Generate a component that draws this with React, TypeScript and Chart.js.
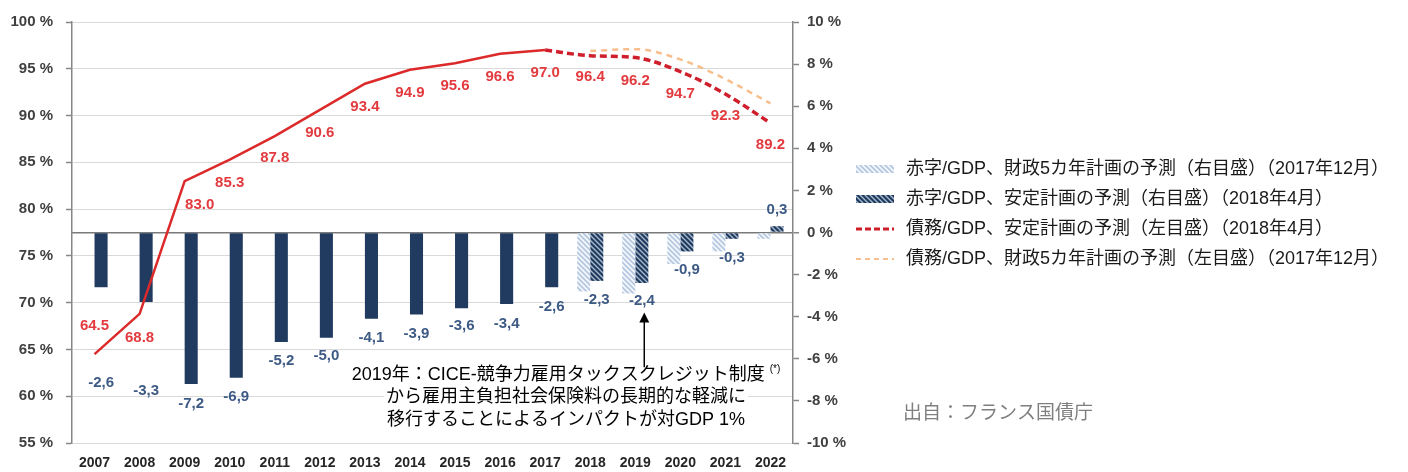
import React, { useEffect, useRef } from "react";
import { Chart, registerables } from "chart.js";

Chart.register(...registerables);

// ---------- data ----------
const years = ["2007", "2008", "2009", "2010", "2011", "2012", "2013", "2014", "2015", "2016", "2017", "2018", "2019", "2020", "2021", "2022"];
// 債務/GDP (actual 2007-2017, 安定計画 2018-2022)
const debtRatio = [64.5, 68.8, 83.0, 85.3, 87.8, 90.6, 93.4, 94.9, 95.6, 96.6, 97.0, 96.4, 96.2, 94.7, 92.3, 89.2];
// 債務/GDP 財政5カ年計画 (2017年12月)
const debtRatioPlan5y = [null, null, null, null, null, null, null, null, null, null, null, 96.9, 97.1, 96.0, 93.9, 91.3];
// 赤字/GDP (actual 2007-2017, 安定計画 2018-2022)
const deficitStability = [-2.6, -3.3, -7.2, -6.9, -5.2, -5.0, -4.1, -3.9, -3.6, -3.4, -2.6, -2.3, -2.4, -0.9, -0.3, 0.3];
// 赤字/GDP 財政5カ年計画 (2017年12月)
const deficitPlan5y = [null, null, null, null, null, null, null, null, null, null, null, -2.8, -2.9, -1.5, -0.9, -0.3];
const lastActualIndex = 10;

const leftAxis = { min: 55, max: 100, step: 5 };
const rightAxis = { min: -10, max: 10, step: 2 };

const legendLabels = [
  "赤字/GDP、財政5カ年計画の予測（右目盛）（2017年12月）",
  "赤字/GDP、安定計画の予測（右目盛）（2018年4月）",
  "債務/GDP、安定計画の予測（左目盛）（2018年4月）",
  "債務/GDP、財政5カ年計画の予測（左目盛）（2017年12月）",
];
const annotationLines = [
  "2019年：CICE-競争力雇用タックスクレジット制度",
  "から雇用主負担社会保険料の長期的な軽減に",
  "移行することによるインパクトが対GDP 1%",
];
const annotationNote = "(*)";
const annotationYear = "2019";
const arrowRange = [-3.8, -6.4]; // right-axis values: tip, tail
const sourceNote = "出自：フランス国債庁";

// ---------- style ----------
const C = {
  navy: "#203a60",
  red: "#dc2a2a",
  redDash: "#cf1f2c",
  orange: "#f8be8c",
  debtLabel: "#e23a3e",
  deficitLabel: "#3d5a85",
  axis: "#868686",
  grid: "#d9d9d9",
  tick: "#404040",
};
const latin = '"Liberation Sans", Arial, "Noto Sans CJK JP", sans-serif';
// label offsets (px) relative to the point / bar end
const debtLabelDx = [0, 0, 15, 0, 0, 0, 0, 0, 0, 0, 0, 0, 0, 0, 0, 0];
const debtLabelDy = [-28, 24, 24, 23, 22, 23, 23, 23, 23, 23, 23, 21, 23, 22, 22, 22];
const deficitLabelDy = [96, 89, 20, 19, 19, 18, 19, 19, 18, 20, 20, 19, 18, 18, 19, -16];

function makeHatch(ctx: CanvasRenderingContext2D, bg: string, fg: string, size: number, lw: number) {
  const c = document.createElement("canvas");
  c.width = size;
  c.height = size;
  const g = c.getContext("2d")!;
  g.fillStyle = bg;
  g.fillRect(0, 0, size, size);
  g.strokeStyle = fg;
  g.lineWidth = lw;
  g.beginPath();
  g.moveTo(-1, -1);
  g.lineTo(size + 1, size + 1);
  g.moveTo(-1, size - 1);
  g.lineTo(1, size + 1);
  g.moveTo(size - 1, -1);
  g.lineTo(size + 1, 1);
  g.stroke();
  return ctx.createPattern(c, "repeat")!;
}

export default function App() {
  const ref = useRef<HTMLCanvasElement | null>(null);

  useEffect(() => {
    const canvas = ref.current!;
    const ctx0 = canvas.getContext("2d")!;
    const lightHatch = makeHatch(ctx0, "#f3f6fb", "#b3c6e0", 5, 1.6);
    const darkHatch = makeHatch(ctx0, "#1f3a5f", "#aab8cc", 5, 1.4);

    const darkColors = deficitStability.map((_, i) => (i <= lastActualIndex ? C.navy : darkHatch));

    const overlay = {
      id: "overlay",
      afterDatasetsDraw(chart: any) {
        const ctx: CanvasRenderingContext2D = chart.ctx;
        const xs = chart.scales.x;
        const yL = chart.scales.yL;
        const yR = chart.scales.yR;
        ctx.save();
        // debt labels
        ctx.font = `bold 15px ${latin}`;
        ctx.textAlign = "center";
        ctx.textBaseline = "middle";
        ctx.fillStyle = C.debtLabel;
        debtRatio.forEach((v, i) => {
          ctx.fillText(v.toFixed(1), xs.getPixelForValue(i) + debtLabelDx[i], yL.getPixelForValue(v) + debtLabelDy[i]);
        });
        // deficit labels
        const meta = chart.getDatasetMeta(1);
        ctx.fillStyle = C.deficitLabel;
        deficitStability.forEach((v, i) => {
          const bar = meta.data[i];
          ctx.fillText(v.toFixed(1).replace(".", ","), bar.x, bar.y + deficitLabelDy[i]);
        });

        // annotation text
        const cx = 566;
        ctx.textAlign = "left";
        const noteFont = `10px ${latin}`;
        annotationLines.forEach((t, k) => {
          const y = 375 + k * 22.5;
          ctx.font = `18px ${latin}`;
          const w = ctx.measureText(t).width;
          let extra = 0;
          if (k === 0) {
            ctx.font = noteFont;
            extra = ctx.measureText(annotationNote).width + 5;
          }
          const left = cx - (w + extra) / 2;
          ctx.fillStyle = "#ffffff";
          ctx.fillRect(left - 2, y - 11, w + extra + 4, 22);
          ctx.fillStyle = "#000000";
          ctx.font = `18px ${latin}`;
          ctx.fillText(t, left, y);
          if (k === 0) {
            ctx.font = noteFont;
            ctx.fillText(annotationNote, left + w + 5, y - 6);
          }
        });

        // arrow
        const idx = years.indexOf(annotationYear);
        const ax = xs.getPixelForValue(idx) + 9;
        const tip = yR.getPixelForValue(arrowRange[0]);
        const tail = yR.getPixelForValue(arrowRange[1]);
        ctx.strokeStyle = "#000";
        ctx.lineWidth = 1.5;
        ctx.beginPath();
        ctx.moveTo(ax, tail);
        ctx.lineTo(ax, tip + 8);
        ctx.stroke();
        ctx.fillStyle = "#000";
        ctx.beginPath();
        ctx.moveTo(ax, tip);
        ctx.lineTo(ax - 5, tip + 10);
        ctx.lineTo(ax + 5, tip + 10);
        ctx.closePath();
        ctx.fill();
        ctx.restore();
      },
      afterDraw(chart: any) {
        const ctx: CanvasRenderingContext2D = chart.ctx;
        ctx.save();
        const rows = [169, 199, 229, 259];
        const sx0 = 856;
        const sx1 = 894;
        rows.forEach((y, k) => {
          if (k === 0 || k === 1) {
            ctx.fillStyle = k === 0 ? lightHatch : darkHatch;
            ctx.fillRect(sx0, y - 4, sx1 - sx0, 8);
          } else {
            ctx.strokeStyle = k === 2 ? C.redDash : C.orange;
            ctx.lineWidth = k === 2 ? 3 : 2;
            ctx.setLineDash(k === 2 ? [6, 3] : [5, 4]);
            ctx.beginPath();
            ctx.moveTo(sx0, y);
            ctx.lineTo(sx1, y);
            ctx.stroke();
            ctx.setLineDash([]);
          }
          ctx.fillStyle = "#1a1a1a";
          ctx.font = `18px ${latin}`;
          ctx.textAlign = "left";
          ctx.textBaseline = "middle";
          ctx.fillText(legendLabels[k], 906, y);
        });
        ctx.fillStyle = "#7f7f7f";
        ctx.font = `19px "Noto Sans CJK JP", sans-serif`;
        ctx.fillText(sourceNote, 903, 412);
        ctx.restore();
      },
    };

    const chart = new Chart(canvas, {
      type: "bar",
      data: {
        labels: years,
        datasets: [
          {
            type: "bar",
            label: legendLabels[0],
            data: deficitPlan5y as any,
            backgroundColor: lightHatch as any,
            yAxisID: "yR",
            order: 2,
            categoryPercentage: 0.58,
            barPercentage: 1,
          },
          {
            type: "bar",
            label: legendLabels[1],
            data: deficitStability,
            backgroundColor: darkColors as any,
            yAxisID: "yR",
            order: 2,
            categoryPercentage: 0.58,
            barPercentage: 1,
          },
          {
            type: "line",
            label: "債務/GDP",
            data: debtRatio.map((v, i) => (i <= lastActualIndex ? v : null)) as any,
            borderColor: C.red,
            borderWidth: 2.5,
            pointRadius: 0,
            tension: 0,
            yAxisID: "yL",
            order: 0,
          },
          {
            type: "line",
            label: legendLabels[2],
            data: debtRatio.map((v, i) => (i >= lastActualIndex ? v : null)) as any,
            borderColor: C.redDash,
            borderWidth: 3.5,
            borderDash: [7, 4],
            pointRadius: 0,
            cubicInterpolationMode: "monotone",
            yAxisID: "yL",
            order: 0,
          },
          {
            type: "line",
            label: legendLabels[3],
            data: debtRatioPlan5y as any,
            borderColor: C.orange,
            borderWidth: 2.5,
            borderDash: [6, 5],
            pointRadius: 0,
            cubicInterpolationMode: "monotone",
            yAxisID: "yL",
            order: 1,
          },
        ],
      },
      options: {
        responsive: false,
        animation: false,
        layout: { padding: { left: 0, right: 555, top: 18, bottom: 0 } },
        plugins: { legend: { display: false }, tooltip: { enabled: false } },
        scales: {
          x: {
            grid: { display: false, drawTicks: false },
            border: { display: false },
            ticks: { font: { family: latin, size: 14, weight: "bold" }, color: "#262626", padding: 12, maxRotation: 0, autoSkip: false },
            afterFit: (s: any) => {
              s.height = 29;
            },
          },
          yL: {
            position: "left",
            min: leftAxis.min,
            max: leftAxis.max,
            ticks: {
              stepSize: leftAxis.step,
              callback: (v: any) => `${v} %`,
              font: { family: latin, size: 15, weight: "bold" },
              color: C.tick,
              padding: 13,
            },
            grid: { color: C.grid, lineWidth: 1, tickColor: C.axis, tickLength: 6, tickWidth: 1.5 },
            border: { color: C.axis, width: 1.5 },
            afterFit: (s: any) => {
              s.width = 72;
            },
          },
          yR: {
            position: "right",
            min: rightAxis.min,
            max: rightAxis.max,
            ticks: {
              stepSize: rightAxis.step,
              callback: (v: any) => `${v} %`,
              font: { family: latin, size: 15, weight: "bold" },
              color: C.tick,
              padding: 8,
            },
            grid: {
              color: (c: any) => (c.tick && c.tick.value === 0 ? "#7a7a7a" : "rgba(0,0,0,0)"),
              lineWidth: (c: any) => (c.tick && c.tick.value === 0 ? 1.5 : 1),
              tickColor: C.axis,
              tickLength: 6,
              tickWidth: 1.5,
            },
            border: { color: C.axis, width: 1.5 },
            afterFit: (s: any) => {
              s.width = 60;
            },
          },
        },
      },
      plugins: [overlay],
    } as any);

    return () => chart.destroy();
  }, []);

  return (
    <div style={{ position: "fixed", left: 0, top: 0, width: 1408, height: 472, background: "#fff" }}>
      <canvas ref={ref} width={1408} height={472} style={{ width: 1408, height: 472, display: "block" }} />
    </div>
  );
}
